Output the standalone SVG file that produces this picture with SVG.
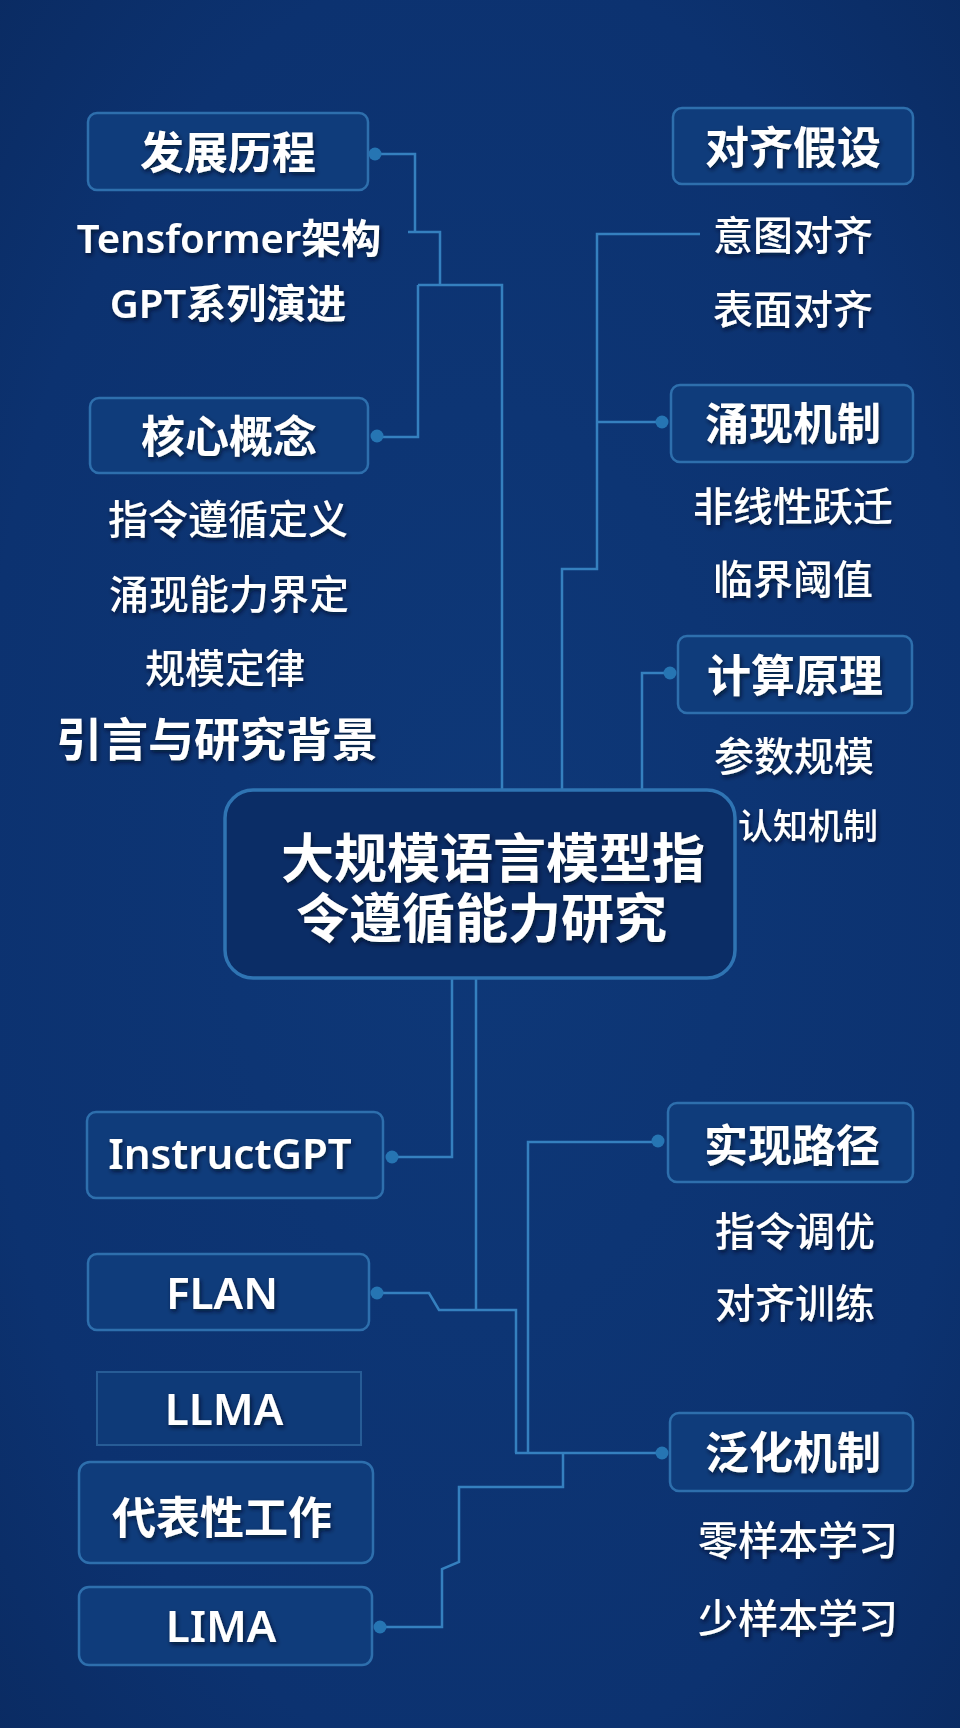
<svg xmlns="http://www.w3.org/2000/svg" width="960" height="1728" viewBox="0 0 960 1728">
<defs>
<radialGradient id="bg" cx="50%" cy="50%" r="75%">
<stop offset="0" stop-color="#0e3878"/>
<stop offset="0.7" stop-color="#0c3270"/>
<stop offset="1" stop-color="#0a2a60"/>
</radialGradient>
<filter id="sh" x="-10%" y="-30%" width="120%" height="160%">
<feDropShadow dx="1.5" dy="2.5" stdDeviation="2" flood-color="#020c20" flood-opacity="0.75"/>
</filter>
</defs>
<style>
.box{fill:#0f3c7b;stroke:#2e6fad;stroke-width:2.5}
.sq{fill:#0e3a78;stroke:#275c96;stroke-width:2}
.main{fill:#0b2d66;stroke:#2f74b3;stroke-width:3.5}
.conn{fill:none;stroke:#3580bf;stroke-width:2.5}
.dot{fill:#2675b3}
text{fill:#ffffff;text-anchor:middle;dominant-baseline:central;font-family:'Noto Sans','Noto Sans CJK SC',sans-serif;filter:url(#sh)}
.t{font-size:44px;font-weight:700}
.s{font-size:40px;font-weight:500}
.m{font-size:40px;font-weight:600}
.c{font-size:53px;font-weight:700;text-anchor:start}
</style>
<rect x="0" y="0" width="960" height="1728" fill="url(#bg)"/>

<g id="connectors">
<path class="conn" d="M375 154 H415 V232 M408 232 H440 V285 M418 285 H502 V790 M418 285 V437 H377"/>
<path class="conn" d="M700 234 H597 V569 H562 V790 M597 422 H662"/>
<path class="conn" d="M670 673 H642 V790"/>
<path class="conn" d="M392 1157 H452 V978"/>
<path class="conn" d="M476 978 V1310"/>
<path class="conn" d="M377 1293 H429 L439 1310 H516 V1453"/>
<path class="conn" d="M658 1142 H528 V1453"/>
<path class="conn" d="M515 1453 H662"/>
<path class="conn" d="M563 1453 V1487 H459 V1562 L442 1569 V1627 H380"/>
<circle class="dot" cx="375" cy="154" r="6.5"/>
<circle class="dot" cx="377" cy="436" r="6.5"/>
<circle class="dot" cx="662" cy="422" r="6.5"/>
<circle class="dot" cx="670" cy="673" r="6.5"/>
<circle class="dot" cx="392" cy="1157" r="6.5"/>
<circle class="dot" cx="377" cy="1293" r="6.5"/>
<circle class="dot" cx="658" cy="1141" r="6.5"/>
<circle class="dot" cx="662" cy="1453" r="6.5"/>
<circle class="dot" cx="380" cy="1627" r="6.5"/>
</g>

<g id="n-fazhan"><rect class="box" x="88" y="113" width="280" height="77" rx="9"/><text class="t" x="228" y="152">发展历程</text></g>
<g id="n-tensformer"><text class="m" x="229" y="237">Tensformer架构</text></g>
<g id="n-gpt"><text class="m" x="228" y="302">GPT系列演进</text></g>
<g id="n-hexin"><rect class="box" x="90" y="398" width="278" height="75" rx="9"/><text class="t" x="229" y="436">核心概念</text></g>
<g id="n-zhiling"><text class="s" x="228" y="518">指令遵循定义</text></g>
<g id="n-yongxian"><text class="s" x="229" y="593">涌现能力界定</text></g>
<g id="n-guimo"><text class="s" x="225" y="667">规模定律</text></g>
<g id="n-yinyan"><text class="t" x="217" y="738" style="font-size:46px">引言与研究背景</text></g>

<g id="n-center"><rect class="main" x="225" y="790" width="510" height="188" rx="28"/>
<text class="c" x="281" y="857">大规模语言模型指</text>
<text class="c" x="296" y="917">令遵循能力研究</text></g>

<g id="n-duiqi"><rect class="box" x="673" y="108" width="240" height="76" rx="9"/><text class="t" x="793" y="147">对齐假设</text></g>
<g id="n-yitu"><text class="s" x="793" y="234">意图对齐</text></g>
<g id="n-biaomian"><text class="s" x="793" y="308">表面对齐</text></g>
<g id="n-yongxianjz"><rect class="box" x="671" y="385" width="242" height="77" rx="9"/><text class="t" x="793" y="423">涌现机制</text></g>
<g id="n-feixian"><text class="s" x="793" y="505">非线性跃迁</text></g>
<g id="n-linjie"><text class="s" x="793" y="578">临界阈值</text></g>
<g id="n-jisuan"><rect class="box" x="678" y="636" width="234" height="77" rx="9"/><text class="t" x="795" y="675">计算原理</text></g>
<g id="n-canshu"><text class="s" x="794" y="755">参数规模</text></g>
<g id="n-renzhi"><text class="s" x="808" y="825" style="font-size:35px">认知机制</text></g>

<g id="n-instructgpt"><rect class="box" x="87" y="1112" width="296" height="86" rx="9"/><text class="t" x="230" y="1152" style="font-size:42px;font-weight:600">InstructGPT</text></g>
<g id="n-flan"><rect class="box" x="88" y="1254" width="281" height="76" rx="9"/><text class="t" x="222" y="1292" style="font-weight:600">FLAN</text></g>
<g id="n-llma"><rect class="sq" x="97" y="1372" width="264" height="73"/><text class="t" x="224" y="1408" style="font-weight:600">LLMA</text></g>
<g id="n-daibiao"><rect class="box" x="79" y="1462" width="294" height="101" rx="11"/><text class="t" x="222" y="1517">代表性工作</text></g>
<g id="n-lima"><rect class="box" x="79" y="1587" width="293" height="78" rx="10"/><text class="t" x="221" y="1625" style="font-weight:600">LIMA</text></g>

<g id="n-shixian"><rect class="box" x="668" y="1103" width="245" height="79" rx="9"/><text class="t" x="792" y="1145">实现路径</text></g>
<g id="n-tiaoyou"><text class="s" x="795" y="1230">指令调优</text></g>
<g id="n-xunlian"><text class="s" x="795" y="1302">对齐训练</text></g>
<g id="n-fanhua"><rect class="box" x="670" y="1413" width="243" height="78" rx="9"/><text class="t" x="793" y="1452">泛化机制</text></g>
<g id="n-lingyang"><text class="s" x="798" y="1539">零样本学习</text></g>
<g id="n-shaoyang"><text class="s" x="798" y="1617">少样本学习</text></g>
</svg>
